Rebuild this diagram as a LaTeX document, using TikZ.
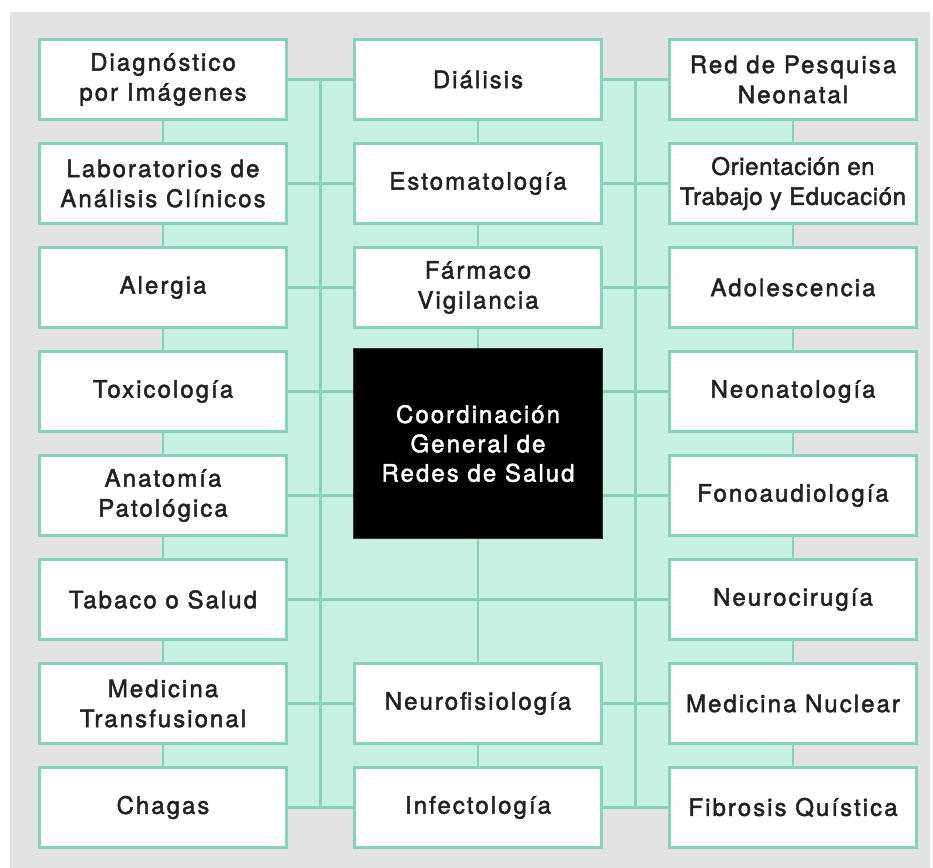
\documentclass[tikz,border=0pt]{standalone}
\usepackage{fontspec}
\setmainfont{TeX Gyre Heros}[LetterSpace=8.5, FakeBold=2]
\newfontfamily\tightfont{TeX Gyre Heros}[LetterSpace=2.5, FakeBold=2]
\usetikzlibrary{calc}
\pgfdeclarelayer{bottom}
\pgfdeclarelayer{background}
\pgfsetlayers{bottom,background,main}
\definecolor{bggray}{HTML}{E2E2E2}
\definecolor{lightgreen}{HTML}{C6F0DF}
\definecolor{edgegreen}{HTML}{86D3B5}
\definecolor{txt}{HTML}{222222}
\tikzset{
  box/.style={draw=edgegreen, line width=2.6pt, fill=white, minimum width=185pt,
    minimum height=60pt, inner sep=0pt, outer sep=0pt, align=center, text=txt,
    font=\fontsize{18}{22.5}\selectfont},
  hub/.style={draw=black!80, line width=0.6pt, fill=black, minimum width=187pt,
    minimum height=142pt, inner sep=0pt, outer sep=0pt, align=center, text=white,
    font=\fontsize{18}{22}\selectfont},
  link/.style={draw=edgegreen, line width=1.8pt},
  region/.style={fill=lightgreen, draw=edgegreen, line width=1.8pt}
}
\begin{document}
\begin{tikzpicture}[x=0.75pt,y=-0.75pt]
\useasboundingbox (0,0) rectangle (933,868);
\begin{pgfonlayer}{bottom}
  \fill[bggray] (10,12) rectangle (930,868);
\end{pgfonlayer}
% left column
\node[box] (l1) at (163,79.5)  {Diagnóstico\\por Imágenes};
\node[box] (l2) at (163,183.5) {Laboratorios de\\Análisis Clínicos};
\node[box] (l3) at (163,287.5) {Alergia};
\node[box] (l4) at (163,391.5) {Toxicología};
\node[box] (l5) at (163,495.5) {Anatomía\\Patológica};
\node[box] (l6) at (163,599.5) {Tabaco o Salud};
\node[box] (l7) at (163,703.5) {Medicina\\Transfusional};
\node[box] (l8) at (163,807.5) {Chagas};
% middle column
\node[box] (m1) at (478,79.5)  {Diálisis};
\node[box] (m2) at (478,183.5) {Estomatología};
\node[box] (m3) at (478,287.5) {Fármaco\\Vigilancia};
\node[hub] (hub) at (478,443.5) {Coordinación\\General de\\Redes de Salud};
\node[box] (m7) at (478,703.5) {Neurofisiología};
\node[box] (m8) at (478,807.5) {Infectología};
% right column
\node[box] (r1) at (793,79.5)  {Red de Pesquisa\\Neonatal};
\node[box, font=\fontsize{18}{22.5}\tightfont] (r2) at (793,183.5) {Orientación en\\Trabajo y Educación};
\node[box] (r3) at (793,287.5) {Adolescencia};
\node[box] (r4) at (793,391.5) {Neonatología};
\node[box] (r5) at (793,495.5) {Fonoaudiología};
\node[box] (r6) at (793,599.5) {Neurocirugía};
\node[box] (r7) at (793,703.5) {Medicina Nuclear};
\node[box] (r8) at (793,807.5) {Fibrosis Quística};
% connectors
\begin{pgfonlayer}{background}
  \path[region] (l1.center) rectangle (r8.center);
  \foreach \i in {1,...,8} {
    \draw[link] (l\i.center) -- (r\i.center);
  }
  \coordinate (vlt) at ($(l1.east)!0.5!(m1.west)$);
  \coordinate (vlb) at ($(l8.east)!0.5!(m8.west)$);
  \coordinate (vrt) at ($(m1.east)!0.5!(r1.west)$);
  \coordinate (vrb) at ($(m8.east)!0.5!(r8.west)$);
  \draw[link] (vlt) -- (vlb);
  \draw[link] (vrt) -- (vrb);
  \draw[link] (m1.center) -- (m8.center);
\end{pgfonlayer}
\end{tikzpicture}
\end{document}
